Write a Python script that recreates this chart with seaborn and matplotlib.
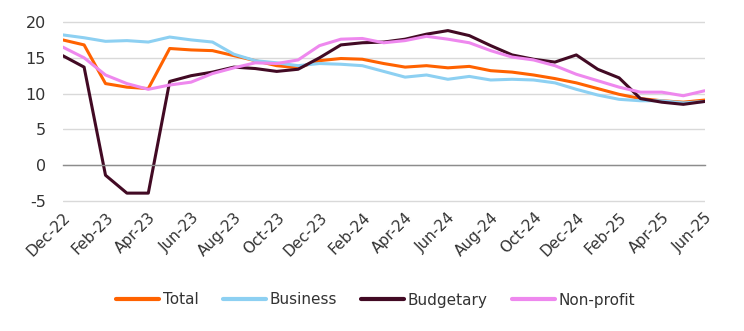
import numpy as np
import pandas as pd
import matplotlib
matplotlib.use("Agg")
import matplotlib.pyplot as plt
import seaborn as sns

months = ["Dec-22", "Jan-23", "Feb-23", "Mar-23", "Apr-23", "May-23", "Jun-23", "Jul-23",
          "Aug-23", "Sep-23", "Oct-23", "Nov-23", "Dec-23", "Jan-24", "Feb-24", "Mar-24",
          "Apr-24", "May-24", "Jun-24", "Jul-24", "Aug-24", "Sep-24", "Oct-24", "Nov-24",
          "Dec-24", "Jan-25", "Feb-25", "Mar-25", "Apr-25", "May-25", "Jun-25"]

total = [17.5, 16.8, 11.4, 10.9, 10.7, 16.3, 16.1, 16.0, 15.3, 14.6, 13.9, 13.6, 14.6, 14.9,
         14.8, 14.2, 13.7, 13.9, 13.6, 13.8, 13.2, 13.0, 12.6, 12.1, 11.5, 10.7, 9.9, 9.3,
         9.0, 8.8, 9.1]
business = [18.2, 17.8, 17.3, 17.4, 17.2, 17.9, 17.5, 17.2, 15.5, 14.6, 14.3, 13.9, 14.2, 14.1,
            13.9, 13.1, 12.3, 12.6, 12.0, 12.4, 11.9, 12.0, 11.9, 11.5, 10.6, 9.8, 9.2, 9.0,
            9.0, 8.7, 8.9]
budgetary = [15.3, 13.7, -1.4, -3.9, -3.9, 11.7, 12.5, 13.0, 13.7, 13.5, 13.1, 13.4, 15.0, 16.8,
             17.1, 17.2, 17.6, 18.3, 18.8, 18.1, 16.7, 15.4, 14.8, 14.4, 15.4, 13.4, 12.2, 9.3,
             8.8, 8.5, 8.9]
nonprofit = [16.5, 15.0, 12.6, 11.4, 10.6, 11.2, 11.6, 12.8, 13.6, 14.3, 14.2, 14.7, 16.7, 17.6,
             17.7, 17.1, 17.4, 18.0, 17.6, 17.1, 16.0, 15.1, 14.7, 13.9, 12.7, 11.8, 10.9, 10.2,
             10.2, 9.7, 10.4]

series_names = ["Total", "Business", "Budgetary", "Non-profit"]
colors = ["#FF6200", "#8DD0F2", "#420A24", "#EE88EE"]

sns.set_theme(style="white")
plt.rcParams["font.family"] = ["DejaVu Sans"]
plt.rcParams["axes.unicode_minus"] = False

idx = np.arange(len(months))
df = pd.concat([
    pd.DataFrame({"m": idx, "value": vals, "series": name})
    for name, vals in zip(series_names, [total, business, budgetary, nonprofit])
])

ppu = (201 - 22) / 25.0
y_lo, y_hi = -5.25, 20.1
top_px = 22 - (y_hi - 20) * ppu
bot_px = 201 + (-5 - y_lo) * ppu

fig = plt.figure(figsize=(7.44, 3.31), dpi=100)
ax = fig.add_axes([62.7 / 744, 1 - bot_px / 331, (704.7 - 62.7) / 744, (bot_px - top_px) / 331])
ax.patch.set_alpha(0)

sns.lineplot(data=df, x="m", y="value", hue="series", hue_order=series_names,
             palette=colors, linewidth=2.2, ax=ax, legend=True)

ax.set_xlim(0, len(months) - 1)
ax.set_ylim(y_lo, y_hi)
ax.set_yticks([-5, 0, 5, 10, 15, 20])
ax.yaxis.grid(True, color="#d9d9d9", linewidth=1)
ax.set_axisbelow(True)
for s in ["top", "right", "left"]:
    ax.spines[s].set_visible(False)
ax.spines["bottom"].set_position(("data", 0))
ax.spines["bottom"].set_color("#8c8c8c")
ax.spines["bottom"].set_linewidth(1)
ax.set_xticks(idx[::2])
ax.tick_params(axis="x", direction="out", length=5, width=1, color="#8c8c8c", labelbottom=False)
ax.tick_params(axis="y", length=0, labelsize=11.5, labelcolor="#333333", pad=12)
ax.set_xlabel("")
ax.set_ylabel("")

sec = ax.secondary_xaxis("bottom")
sec.set_xticks(idx[::2])
sec.set_xticklabels(months[::2], rotation=45, ha="right", va="top", rotation_mode="anchor",
                    fontsize=11, color="#333333")
sec.tick_params(length=0, pad=5)
sec.spines["bottom"].set_visible(False)

handles, labels = ax.get_legend_handles_labels()
ax.get_legend().remove()
for h in handles:
    h.set_linewidth(3)
fig.legend(handles, labels, loc="center", bbox_to_anchor=(0.505, 1 - 300 / 331), ncol=4,
           frameon=False, fontsize=11, handlelength=2.8, handletextpad=0.25,
           columnspacing=1.6, labelcolor="#333333")

fig.savefig("out.png", dpi=100)
